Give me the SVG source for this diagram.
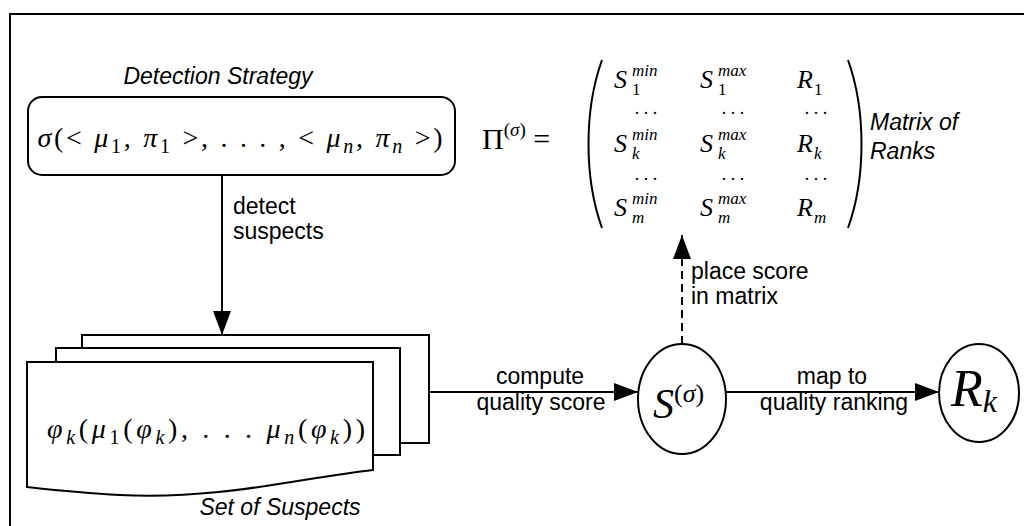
<svg xmlns="http://www.w3.org/2000/svg" width="1024" height="526" viewBox="0 0 1024 526">
<style>
.ln{fill:none;stroke:#000;stroke-width:2}
.sh{fill:#fff;stroke:#000;stroke-width:2}
.lb{font-family:"Liberation Sans",Arial,sans-serif;font-size:23px;fill:#000}
.it{font-family:"Liberation Sans",Arial,sans-serif;font-size:23px;font-style:italic;fill:#000}
.m{font-family:"Liberation Serif","Times New Roman",serif;fill:#000}
.i{font-style:italic}
</style>
<defs>
<marker id="ah" markerUnits="userSpaceOnUse" markerWidth="24" markerHeight="18" refX="24" refY="9" orient="auto">
<path d="M0,0 L24,9 L0,18 z" fill="#000"/>
</marker>
</defs>
<path class="ln" d="M10,526 V14 H1024"/>

<g id="strategy">
<text class="it" x="218" y="84" text-anchor="middle">Detection Strategy</text>
<rect class="sh" x="28" y="97" width="427" height="78" rx="14"/>
<text class="m" x="240" y="147" text-anchor="middle" font-size="28" textLength="405"><tspan class="i">σ</tspan>(&lt; <tspan class="i">μ</tspan><tspan dy="6" font-size="20">1</tspan><tspan dy="-6">, </tspan><tspan class="i">π</tspan><tspan dy="6" font-size="20">1</tspan><tspan dy="-6"> &gt;, . . . , &lt; </tspan><tspan class="i">μ</tspan><tspan class="i" dy="6" font-size="20">n</tspan><tspan dy="-6">, </tspan><tspan class="i">π</tspan><tspan class="i" dy="6" font-size="20">n</tspan><tspan dy="-6"> &gt;)</tspan></text>
</g>

<g id="matrix">
<text class="m" x="482" y="149" font-size="30">Π<tspan dy="-13" font-size="19">(<tspan class="i">σ</tspan>)</tspan><tspan dy="13"> =</tspan></text>
<path class="ln" stroke-width="2.5" d="M602,60 C584,110 584,178 602,228"/>
<path class="ln" stroke-width="2.5" d="M848,60 C866,110 866,178 848,228"/>
<g class="m i" font-size="26">
<text x="614" y="88">S<tspan x="632" y="76" font-size="17">min</tspan><tspan x="632" y="95" font-size="17" font-style="normal">1</tspan></text>
<text x="700" y="88">S<tspan x="718" y="76" font-size="17">max</tspan><tspan x="718" y="95" font-size="17" font-style="normal">1</tspan></text>
<text x="797" y="88">R<tspan x="814" y="95" font-size="17" font-style="normal">1</tspan></text>
<text x="614" y="152">S<tspan x="632" y="140" font-size="17">min</tspan><tspan x="632" y="159" font-size="17">k</tspan></text>
<text x="700" y="152">S<tspan x="718" y="140" font-size="17">max</tspan><tspan x="718" y="159" font-size="17">k</tspan></text>
<text x="797" y="152">R<tspan x="814" y="159" font-size="17">k</tspan></text>
<text x="614" y="216">S<tspan x="632" y="204" font-size="17">min</tspan><tspan x="632" y="223" font-size="17">m</tspan></text>
<text x="700" y="216">S<tspan x="718" y="204" font-size="17">max</tspan><tspan x="718" y="223" font-size="17">m</tspan></text>
<text x="797" y="216">R<tspan x="814" y="223" font-size="17">m</tspan></text>
</g>
<g class="m" font-size="18" text-anchor="middle">
<text x="646" y="114">. . .</text><text x="733" y="114">. . .</text><text x="816" y="114">. . .</text>
<text x="646" y="180">. . .</text><text x="733" y="180">. . .</text><text x="816" y="180">. . .</text>
</g>
<text class="it" x="870" y="130">Matrix of</text>
<text class="it" x="870" y="159">Ranks</text>
</g>

<g id="suspects">
<rect class="sh" x="82" y="335" width="347" height="108"/>
<rect class="sh" x="56" y="348" width="344" height="107"/>
<path class="sh" d="M27,362 H373 V470 C300,478 220,500 120,495 C80,493 45,489 27,487 Z"/>
<text class="m" x="206" y="438" text-anchor="middle" font-size="28" textLength="318"><tspan class="i">φ</tspan><tspan class="i" dy="6" font-size="20">k</tspan><tspan dy="-6">(</tspan><tspan class="i">μ</tspan><tspan dy="6" font-size="20">1</tspan><tspan dy="-6">(</tspan><tspan class="i">φ</tspan><tspan class="i" dy="6" font-size="20">k</tspan><tspan dy="-6">), . . . </tspan><tspan class="i">μ</tspan><tspan class="i" dy="6" font-size="20">n</tspan><tspan dy="-6">(</tspan><tspan class="i">φ</tspan><tspan class="i" dy="6" font-size="20">k</tspan><tspan dy="-6">))</tspan></text>
<text class="it" x="280" y="515" text-anchor="middle">Set of Suspects</text>
</g>

<g id="score">
<ellipse class="sh" cx="682" cy="399" rx="44" ry="55"/>
<text class="m i" x="653" y="418" font-size="42">S<tspan dy="-16" font-size="26" font-style="normal">(<tspan font-style="italic">σ</tspan>)</tspan></text>
</g>

<g id="rank">
<ellipse class="sh" cx="979" cy="393" rx="40" ry="49"/>
<text class="m i" x="951" y="406" font-size="52">R<tspan dy="6" font-size="32">k</tspan></text>
</g>

<g id="connectors">
<line class="ln" x1="222" y1="175" x2="222" y2="335" marker-end="url(#ah)"/>
<text class="lb" x="233" y="214">detect</text>
<text class="lb" x="233" y="239">suspects</text>
<line class="ln" x1="429" y1="392" x2="638" y2="392" marker-end="url(#ah)"/>
<text class="lb" x="540" y="384" text-anchor="middle">compute</text>
<text class="lb" x="541" y="410" text-anchor="middle">quality score</text>
<line class="ln" x1="726" y1="392" x2="939" y2="392" marker-end="url(#ah)"/>
<text class="lb" x="832" y="384" text-anchor="middle">map to</text>
<text class="lb" x="834" y="410" text-anchor="middle">quality ranking</text>
<line class="ln" x1="682" y1="344" x2="682" y2="235" stroke-dasharray="8,5" marker-end="url(#ah)"/>
<text class="lb" x="691" y="279">place score</text>
<text class="lb" x="691" y="304">in matrix</text>
</g>
</svg>
